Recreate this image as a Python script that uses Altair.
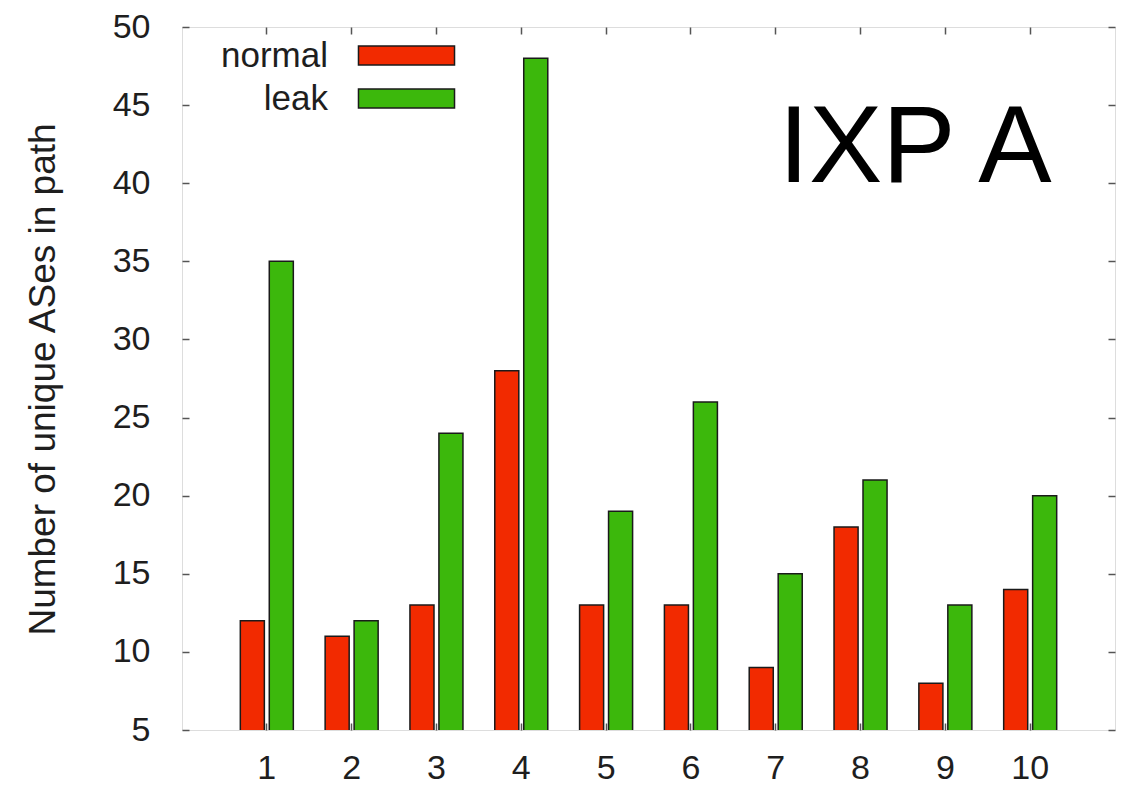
import altair as alt
import pandas as pd

categories = ["1", "2", "3", "4", "5", "6", "7", "8", "9", "10"]
normal = [12, 11, 13, 28, 13, 13, 9, 18, 8, 14]
leak = [35, 12, 24, 48, 19, 26, 15, 21, 13, 20]
series = ["normal", "leak"]
colors = ["#f22a00", "#3cb80c"]
y_ticks = [5, 10, 15, 20, 25, 30, 35, 40, 45, 50]
y_title = "Number of unique ASes in path"
annotation = ["IXP A"]

rows = []
for c, n, l in zip(categories, normal, leak):
    rows.append({"cat": c, "series": "normal", "value": n})
    rows.append({"cat": c, "series": "leak", "value": l})
df = pd.DataFrame(rows)
ann_df = pd.DataFrame({"label": annotation})

FONT = "Liberation Sans"
TXT = "#1e1e1e"
TICK = "#555555"

x_scale = alt.Scale(domain=categories, paddingInner=0.375, paddingOuter=0.6875)
y_scale = alt.Scale(domain=[5, 50], nice=False, zero=False)
off_scale = alt.Scale(domain=series, paddingInner=0.17)
color_scale = alt.Scale(domain=series, range=colors)

ghost = alt.Chart(df).mark_bar(opacity=0).encode(
    x=alt.X("cat:N", scale=x_scale, sort=categories,
            axis=alt.Axis(orient="top", title=None, labels=False, domain=False, grid=False,
                          offset=-7, tickSize=7, tickColor=TICK, tickWidth=1.5)),
    y=alt.Y("value:Q", scale=y_scale,
            axis=alt.Axis(orient="right", title=None, labels=False, domain=False, grid=False,
                          values=y_ticks, offset=-7, tickSize=7, tickColor=TICK,
                          tickWidth=1.5)),
)

bars = alt.Chart(df).mark_bar(stroke="#1a1a1a", strokeWidth=1.5, clip=True).encode(
    x=alt.X("cat:N", scale=x_scale, sort=categories,
            axis=alt.Axis(orient="bottom", title=None, labelAngle=0, domain=False, grid=False,
                          offset=-7, tickSize=7, labelPadding=21, labelFontSize=34,
                          labelFont=FONT, labelColor=TXT, tickColor=TICK, tickWidth=1.5)),
    y=alt.Y("value:Q", scale=y_scale,
            axis=alt.Axis(orient="left", title=y_title, values=y_ticks, domain=False,
                          grid=False, offset=-7, tickSize=7, labelPadding=32,
                          labelFontSize=34, labelFont=FONT, labelColor=TXT,
                          tickColor=TICK, tickWidth=1.5,
                          titleFont=FONT, titleFontSize=37, titleFontWeight="normal",
                          titleColor=TXT, titleX=-146, titleY=352, titleAngle=270,
                          titleAlign="center", titleBaseline="middle")),
    xOffset=alt.XOffset("series:N", scale=off_scale, sort=series),
    color=alt.Color("series:N", scale=color_scale, sort=series,
                    legend=alt.Legend(orient="none", legendX=207, legendY=11, title=None,
                                      symbolType="M-5,-1H5V1H-5Z", symbolSize=369,
                                      symbolStrokeColor="#1a1a1a", symbolStrokeWidth=1.5,
                                      symbolOpacity=1, labelAlign="right",
                                      labelOffset={"expr": "-96"},
                                      labelFontSize=35, labelFont=FONT, labelColor=TXT,
                                      rowPadding=7, padding=0)),
)

text = alt.Chart(ann_df).mark_text(
    font=FONT, fontSize=110, color="#000000", align="center", baseline="alphabetic"
).encode(
    x=alt.value(733), y=alt.value(155), text="label:N"
)

chart = alt.layer(ghost, bars, text).resolve_axis(
    x="independent", y="independent"
).properties(
    width=933, height=703,
    padding={"left": 182, "top": 27, "right": 12, "bottom": 60},
    autosize=alt.AutoSizeParams(type="none"),
).configure_view(stroke="#6e6e6e", strokeWidth=2).configure(background="white")

chart.save("out.html", embed_options={"renderer": "svg", "actions": False})
